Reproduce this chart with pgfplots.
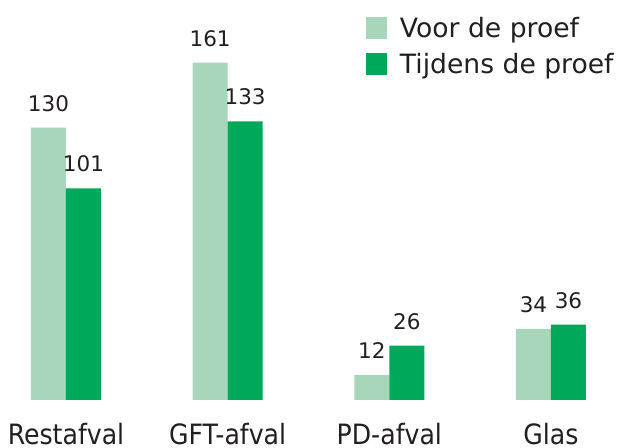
\documentclass[border=0pt]{standalone}
\usepackage{pgfplots}
\pgfplotsset{compat=1.18}
\usepackage{fontspec}
\setmainfont{DejaVu Sans}
\newfontfamily\condfont{DejaVu Sans Condensed}
\definecolor{lightg}{RGB}{168,214,186}
\definecolor{darkg}{RGB}{0,168,89}
\definecolor{txt}{RGB}{35,31,32}
\begin{document}
\begin{tikzpicture}
\useasboundingbox (0,0) rectangle (620bp,448bp);
\begin{axis}[
  at={(1.33bp,48bp)}, anchor=south west,
  scale only axis, width=614.3bp, height=377.1bp,
  xmin=-0.4, xmax=3.4, ymin=0, ymax=180,
  ybar=0pt, bar width=35bp,
  axis line style={draw=none},
  ytick=\empty,
  xtick={0,1,2,3},
  xticklabels={Restafval,GFT-afval,PD-afval,Glas},
  major tick length=0pt,
  xticklabel style={anchor=base, yshift=-44bp, font=\condfont\fontsize{28bp}{30bp}\selectfont, text=txt},
  /pgf/number format/assume math mode=true,
  nodes near coords,
  every node near coord/.append style={anchor=south, inner sep=0pt, yshift=16bp, font=\fontsize{21.5bp}{25bp}\selectfont, text=txt},
  clip=false,
  legend style={draw=none, fill=none, inner sep=0pt, outer sep=0pt,
    at={(0.5936,1.0164)}, anchor=north west,
    row sep=14bp, column sep=0pt,
    font=\fontsize{26.6bp}{30bp}\selectfont, text=txt,
    nodes={inner sep=0pt, anchor=base west}},
]
\addplot[fill=lightg, draw=none,
  legend image code/.code={\fill[lightg] (0bp,-1.7bp) rectangle (20.7bp,20.6bp);\path (34bp,0bp);}]
  coordinates {(0,130) (1,161) (2,12) (3,34)};
\addplot[fill=darkg, draw=none,
  legend image code/.code={\fill[darkg] (0bp,-1.7bp) rectangle (20.7bp,20.6bp);\path (34bp,0bp);}]
  coordinates {(0,101) (1,133) (2,26) (3,36)};
\legend{Voor de proef, Tijdens de proef}
\end{axis}
\end{tikzpicture}
\end{document}
